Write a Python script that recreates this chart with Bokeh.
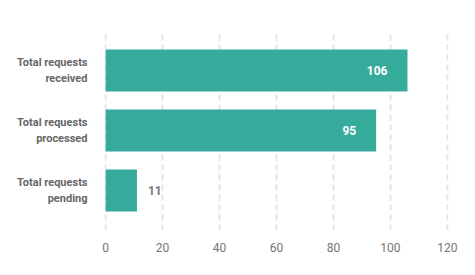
from bokeh.plotting import figure
from bokeh.models import ColumnDataSource, FactorRange, Range1d, FixedTicker
from bokeh.embed import file_html
from bokeh.resources import INLINE
from bokeh.core.properties import value

categories = ["Total requests\nreceived", "Total requests\nprocessed", "Total requests\npending"]
values = [106, 95, 11]
x_ticks = [0, 20, 40, 60, 80, 100, 120]

inside = [v > 50 for v in values]
src = ColumnDataSource(dict(
    cat=categories,
    val=values,
))
src_in = ColumnDataSource(dict(
    cat=[c for c, i in zip(categories, inside) if i],
    val=[v for v, i in zip(values, inside) if i],
    lbl=[str(v) for v, i in zip(values, inside) if i],
))
src_out = ColumnDataSource(dict(
    cat=[c for c, i in zip(categories, inside) if not i],
    val=[v for v, i in zip(values, inside) if not i],
    lbl=[str(v) for v, i in zip(values, inside) if not i],
))

p = figure(
    width=475, height=275,
    y_range=FactorRange(factors=categories[::-1], range_padding=0.167, range_padding_units="absolute"),
    x_range=Range1d(-0.4, 120.4),
    output_backend="svg", toolbar_location=None,
    min_border_left=104, min_border_right=27, min_border_top=30, min_border_bottom=45,
)
p.outline_line_color = None
p.background_fill_color = "white"
p.border_fill_color = "white"

p.hbar(y="cat", right="val", left=0, height=0.7, source=src,
       fill_color="#36ab9b", line_color=None)

p.text(x="val", y="cat", text="lbl", source=src_in, x_offset=-20,
       text_align="right", text_baseline="middle", text_color="white",
       text_font=value("Roboto"), text_font_style="bold", text_font_size="12px")
p.text(x="val", y="cat", text="lbl", source=src_out, x_offset=11,
       text_align="left", text_baseline="middle", text_color="#757575",
       text_font=value("Roboto"), text_font_style="bold", text_font_size="12px")

p.xaxis.ticker = FixedTicker(ticks=x_ticks)
p.xaxis.axis_line_color = None
p.xaxis.major_tick_line_color = None
p.xaxis.minor_tick_line_color = None
p.xaxis.major_label_text_font = "Roboto"
p.xaxis.major_label_text_font_size = "12px"
p.xaxis.major_label_text_color = "#757575"
p.xaxis.major_label_standoff = 6

p.yaxis.axis_line_color = None
p.yaxis.major_tick_line_color = None
p.yaxis.minor_tick_line_color = None
p.yaxis.major_label_text_font = "Roboto"
p.yaxis.major_label_text_font_style = "bold"
p.yaxis.major_label_text_font_size = "11px"
p.yaxis.major_label_text_color = "#666666"
p.yaxis.major_label_standoff = 11

p.ygrid.grid_line_color = None
p.xgrid.grid_line_color = "#e4e4e4"
p.xgrid.grid_line_width = 2
p.xgrid.grid_line_dash = "6 4"

open("out.html", "w").write(file_html(p, INLINE))
